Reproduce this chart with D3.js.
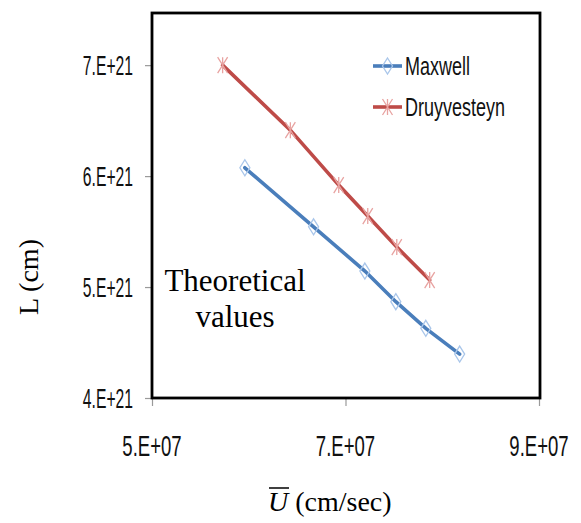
<!DOCTYPE html>
<html><head><meta charset="utf-8">
<script src="https://cdn.jsdelivr.net/npm/d3@7"></script>
<style>body{margin:0;background:#fff}svg{display:block}</style>
</head><body>
<svg id="c" width="581" height="523"></svg>
<script>
const maxwellX = [5.96e7, 6.67e7, 7.20e7, 7.52e7, 7.83e7, 8.18e7];
const maxwellY = [6.075e21, 5.543e21, 5.144e21, 4.868e21, 4.628e21, 4.396e21];
const druyX = [5.73e7, 6.43e7, 6.93e7, 7.23e7, 7.53e7, 7.87e7];
const druyY = [7.00e21, 6.414e21, 5.919e21, 5.640e21, 5.360e21, 5.063e21];
const xTicks = [5e7, 7e7, 9e7];
const yTicks = [4e21, 5e21, 6e21, 7e21];
const seriesNames = ["Maxwell", "Druyvesteyn"];

const svg = d3.select("#c");
const L = 152, R = 540, T = 13, B = 398;
const x = d3.scaleLinear().domain([5e7, 9e7]).range([L, 539]);
const y = d3.scaleLinear().domain([4e21, 7.47e21]).range([B, T]);

function fmt(v){
  const e = Math.floor(Math.log10(v) + 1e-9);
  const m = Math.round(v / Math.pow(10, e));
  return m + ".E+" + String(e).padStart(2, "0");
}

// ticks
const xAxis = d3.axisBottom(x).tickValues(xTicks).tickSize(8).tickFormat("");
const gx = svg.append("g").attr("transform", `translate(0,${B})`).call(xAxis);
gx.select(".domain").remove();
gx.selectAll("line").attr("stroke", "#9a9a9a").attr("stroke-width", 1.2);
const yAxis = d3.axisLeft(y).tickValues(yTicks).tickSize(7).tickFormat("");
const gy = svg.append("g").attr("transform", `translate(${L},0)`).call(yAxis);
gy.select(".domain").remove();
gy.selectAll("line").attr("stroke", "#9a9a9a").attr("stroke-width", 1.2);

// tick labels (condensed)
const tf = "Liberation Sans, Arial, sans-serif";
xTicks.forEach(v => {
  svg.append("text").attr("transform", `translate(${x(v)},456) scale(0.64,1)`)
    .attr("text-anchor", "middle").attr("font-family", tf).attr("font-size", 29)
    .attr("fill", "#111").text(fmt(v));
});
yTicks.forEach(v => {
  svg.append("text").attr("transform", `translate(133,${y(v) + 10}) scale(0.56,1)`)
    .attr("text-anchor", "end").attr("font-family", tf).attr("font-size", 28)
    .attr("fill", "#111").text(fmt(v));
});

// frame
svg.append("rect").attr("x", L).attr("y", T).attr("width", R - L).attr("height", B - T)
  .attr("fill", "none").attr("stroke", "#000").attr("stroke-width", 2.8);

const line = d3.line().x(d => x(d[0])).y(d => y(d[1]));
const mData = maxwellX.map((v, i) => [v, maxwellY[i]]);
const dData = druyX.map((v, i) => [v, druyY[i]]);

const blue = "#4a7ebb", red = "#be4b48";
const blueM = "#a9c6ea", redM = "#e8a3a1";

svg.append("path").datum(mData).attr("d", line).attr("fill", "none")
  .attr("stroke", blue).attr("stroke-width", 3.6).attr("stroke-linecap", "round");
svg.append("path").datum(dData).attr("d", line).attr("fill", "none")
  .attr("stroke", red).attr("stroke-width", 3.6).attr("stroke-linecap", "round");

function diamond(g, cx, cy){
  g.append("path").attr("d", `M${cx},${cy-8}L${cx+5},${cy}L${cx},${cy+8}L${cx-5},${cy}Z`)
    .attr("fill", "none").attr("stroke", blueM).attr("stroke-width", 1.3);
}
function star(g, cx, cy){
  g.append("path").attr("d",
    `M${cx},${cy-8}L${cx},${cy+8}M${cx-5},${cy-8}L${cx+5},${cy+8}M${cx+5},${cy-8}L${cx-5},${cy+8}`)
    .attr("fill", "none").attr("stroke", redM).attr("stroke-width", 1.3);
}
const gm = svg.append("g");
mData.forEach(d => diamond(gm, x(d[0]), y(d[1])));
dData.forEach(d => star(gm, x(d[0]), y(d[1])));

// legend
const lg = svg.append("g");
[[66, blue, diamond], [107, red, star]].forEach((r, i) => {
  lg.append("line").attr("x1", 373).attr("x2", 402).attr("y1", r[0]).attr("y2", r[0])
    .attr("stroke", r[1]).attr("stroke-width", 3.6);
  r[2](lg, 387.5, r[0]);
  lg.append("text").attr("transform", `translate(405,${r[0] + 9}) scale(0.72,1)`)
    .attr("font-family", tf).attr("font-size", 25).attr("fill", "#111").text(seriesNames[i]);
});

// annotation
const serif = "Liberation Serif, Times New Roman, serif";
svg.append("text").attr("x", 235).attr("y", 291).attr("text-anchor", "middle")
  .attr("font-family", serif).attr("font-size", 31).attr("fill", "#000").text("Theoretical");
svg.append("text").attr("x", 235).attr("y", 327).attr("text-anchor", "middle")
  .attr("font-family", serif).attr("font-size", 31).attr("fill", "#000").text("values");

// y title
svg.append("text").attr("transform", "translate(38,277) rotate(-90)").attr("text-anchor", "middle")
  .attr("font-family", serif).attr("font-size", 28).attr("fill", "#000").text("L (cm)");

// x title
const xt = svg.append("text").attr("x", 268).attr("y", 511)
  .attr("font-family", serif).attr("font-size", 28).attr("fill", "#000");
xt.append("tspan").attr("font-style", "italic").text("U");
xt.append("tspan").text(" (cm/sec)");
svg.append("line").attr("x1", 269).attr("x2", 289).attr("y1", 488).attr("y2", 488)
  .attr("stroke", "#000").attr("stroke-width", 1.5);
</script>
</body></html>
